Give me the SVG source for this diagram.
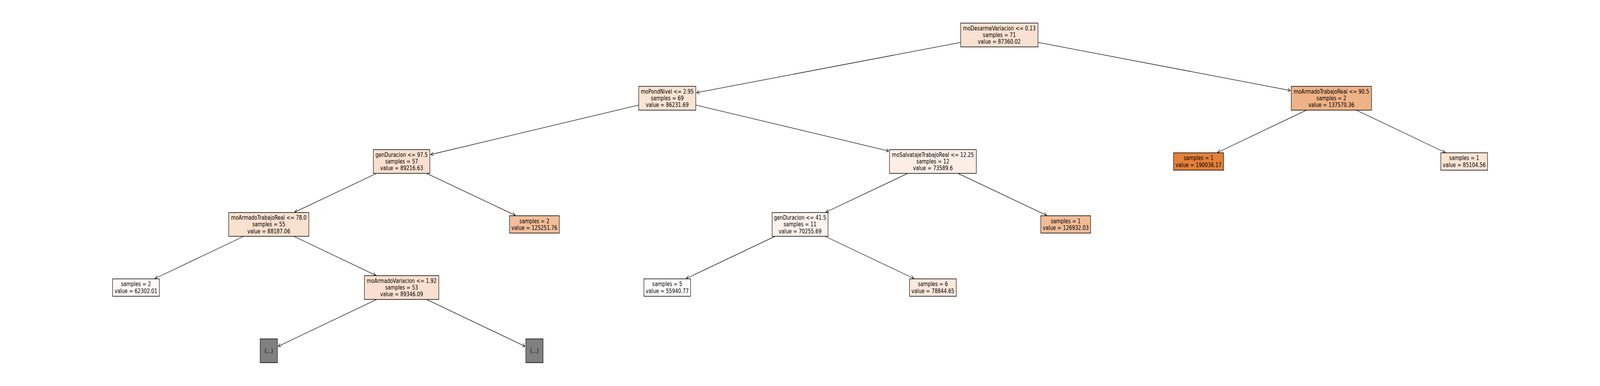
<svg xmlns="http://www.w3.org/2000/svg" width="5490" height="989" viewBox="0 0 5490 989" preserveAspectRatio="none">
<style>
svg:root{width:100vw;height:100vh;display:block}
.n{stroke:#000;stroke-width:1.5}
.t{font-family:"DejaVu Sans","Liberation Sans",sans-serif;font-size:16.4px;fill:#000;text-anchor:middle}
.e{stroke:#000;stroke-width:1.3;fill:none;marker-end:url(#ah)}
</style>
<defs>
<marker id="ah" markerUnits="userSpaceOnUse" viewBox="-11 -6 12 12" refX="0" refY="0" markerWidth="12" markerHeight="12" orient="auto" overflow="visible">
<path d="M-9,-4.5 L0,0 L-9,4.5" fill="none" stroke="#000" stroke-width="1.3"/>
</marker>
</defs>
<rect width="5490" height="989" fill="#fff"/>
<g id="connectors">
<line class="e" x1="3428.9" y1="89.7" x2="2390.5" y2="237.4"/>
<line class="e" x1="3428.9" y1="89.7" x2="4427.6" y2="231.8"/>
<line class="e" x1="2289.5" y1="251.8" x2="1478" y2="396"/>
<line class="e" x1="2289.5" y1="251.8" x2="3049" y2="386.8"/>
<line class="e" x1="4568.3" y1="251.8" x2="4178.1" y2="390.5"/>
<line class="e" x1="4568.3" y1="251.8" x2="4958.4" y2="390.5"/>
<line class="e" x1="1378" y1="413.8" x2="1011.3" y2="543.5"/>
<line class="e" x1="1378" y1="413.8" x2="1767.9" y2="551.7"/>
<line class="e" x1="3201" y1="413.8" x2="2834.3" y2="543.5"/>
<line class="e" x1="3201" y1="413.8" x2="3590.9" y2="551.7"/>
<line class="e" x1="922.25" y1="575" x2="532.1" y2="713.5"/>
<line class="e" x1="922.25" y1="575" x2="1289.3" y2="705.3"/>
<line class="e" x1="2745.25" y1="575" x2="2355.1" y2="713.5"/>
<line class="e" x1="2745.25" y1="575" x2="3135.4" y2="713.5"/>
<line class="e" x1="1378" y1="736.8" x2="954.6" y2="887.3"/>
<line class="e" x1="1378" y1="736.8" x2="1801.4" y2="887.3"/>
</g>
<g id="node0"><rect class="n" x="3296.2" y="59.2" width="265.4" height="61" fill="#f9e1d1"/>
<text class="t" x="3428.9" y="77.7">moDesarmeVariacion &lt;= 0.13</text><text class="t" x="3428.9" y="95">samples = 71</text><text class="t" x="3428.9" y="112.3">value = 87360.02</text></g>
<g id="node1"><rect class="n" x="2191.5" y="221.3" width="196" height="61" fill="#f9e3d2"/>
<text class="t" x="2289.5" y="239.8">moPondNivel &lt;= 2.95</text><text class="t" x="2289.5" y="257.1">samples = 69</text><text class="t" x="2289.5" y="274.4">value = 86231.69</text></g>
<g id="node2"><rect class="n" x="4430.6" y="221.3" width="275.4" height="61" fill="#efb286"/>
<text class="t" x="4568.3" y="239.8">moArmadoTrabajoReal &lt;= 90.5</text><text class="t" x="4568.3" y="257.1">samples = 2</text><text class="t" x="4568.3" y="274.4">value = 137570.36</text></g>
<g id="node3"><rect class="n" x="1281" y="383.3" width="194" height="61" fill="#f9e0ce"/>
<text class="t" x="1378" y="401.8">genDuracion &lt;= 97.5</text><text class="t" x="1378" y="419.1">samples = 57</text><text class="t" x="1378" y="436.4">value = 89216.63</text></g>
<g id="node4"><rect class="n" x="3052" y="383.3" width="298" height="61" fill="#fceee5"/>
<text class="t" x="3201" y="401.8">moSalvatajeTrabajoReal &lt;= 12.25</text><text class="t" x="3201" y="419.1">samples = 12</text><text class="t" x="3201" y="436.4">value = 73589.6</text></g>
<g id="node5"><rect class="n" x="4026.6" y="391.5" width="171.8" height="44.6" fill="#e58139"/>
<text class="t" x="4112.5" y="410.45">samples = 1</text><text class="t" x="4112.5" y="427.75">value = 190036.17</text></g>
<g id="node6"><rect class="n" x="4943.8" y="391.5" width="160.4" height="44.6" fill="#f9e4d4"/>
<text class="t" x="5024" y="410.45">samples = 1</text><text class="t" x="5024" y="427.75">value = 85104.56</text></g>
<g id="node7"><rect class="n" x="784.75" y="544.5" width="275" height="61" fill="#f9e1cf"/>
<text class="t" x="922.25" y="563">moArmadoTrabajoReal &lt;= 78.0</text><text class="t" x="922.25" y="580.3">samples = 55</text><text class="t" x="922.25" y="597.6">value = 88187.06</text></g>
<g id="node8"><rect class="n" x="1748.25" y="552.7" width="171" height="44.6" fill="#f2be99"/>
<text class="t" x="1833.75" y="571.65">samples = 2</text><text class="t" x="1833.75" y="588.95">value = 125251.76</text></g>
<g id="node9"><rect class="n" x="2649.25" y="544.5" width="192" height="61" fill="#fcf2ea"/>
<text class="t" x="2745.25" y="563">genDuracion &lt;= 41.5</text><text class="t" x="2745.25" y="580.3">samples = 11</text><text class="t" x="2745.25" y="597.6">value = 70255.69</text></g>
<g id="node10"><rect class="n" x="3571.25" y="552.7" width="171" height="44.6" fill="#f1bc96"/>
<text class="t" x="3656.75" y="571.65">samples = 1</text><text class="t" x="3656.75" y="588.95">value = 126932.03</text></g>
<g id="node11"><rect class="n" x="386.3" y="714.5" width="160.4" height="44.6" fill="#fef9f6"/>
<text class="t" x="466.5" y="733.45">samples = 2</text><text class="t" x="466.5" y="750.75">value = 62302.01</text></g>
<g id="node12"><rect class="n" x="1250.3" y="706.3" width="255.4" height="61" fill="#f9e0ce"/>
<text class="t" x="1378" y="724.8">moArmadoVariacion &lt;= 1.92</text><text class="t" x="1378" y="742.1">samples = 53</text><text class="t" x="1378" y="759.4">value = 89346.09</text></g>
<g id="node13"><rect class="n" x="2209.5" y="714.5" width="160" height="44.6" fill="#ffffff"/>
<text class="t" x="2289.5" y="733.45">samples = 5</text><text class="t" x="2289.5" y="750.75">value = 55940.77</text></g>
<g id="node14"><rect class="n" x="3120.8" y="714.5" width="160.4" height="44.6" fill="#fbe9dd"/>
<text class="t" x="3201" y="733.45">samples = 6</text><text class="t" x="3201" y="750.75">value = 78844.65</text></g>
<g id="node15"><rect class="n" x="892.75" y="868.3" width="59" height="61" fill="#808080"/>
<text class="t" x="922.25" y="904.1">(...)</text></g>
<g id="node16"><rect class="n" x="1804.25" y="868.3" width="59" height="61" fill="#808080"/>
<text class="t" x="1833.75" y="904.1">(...)</text></g>
</svg>
